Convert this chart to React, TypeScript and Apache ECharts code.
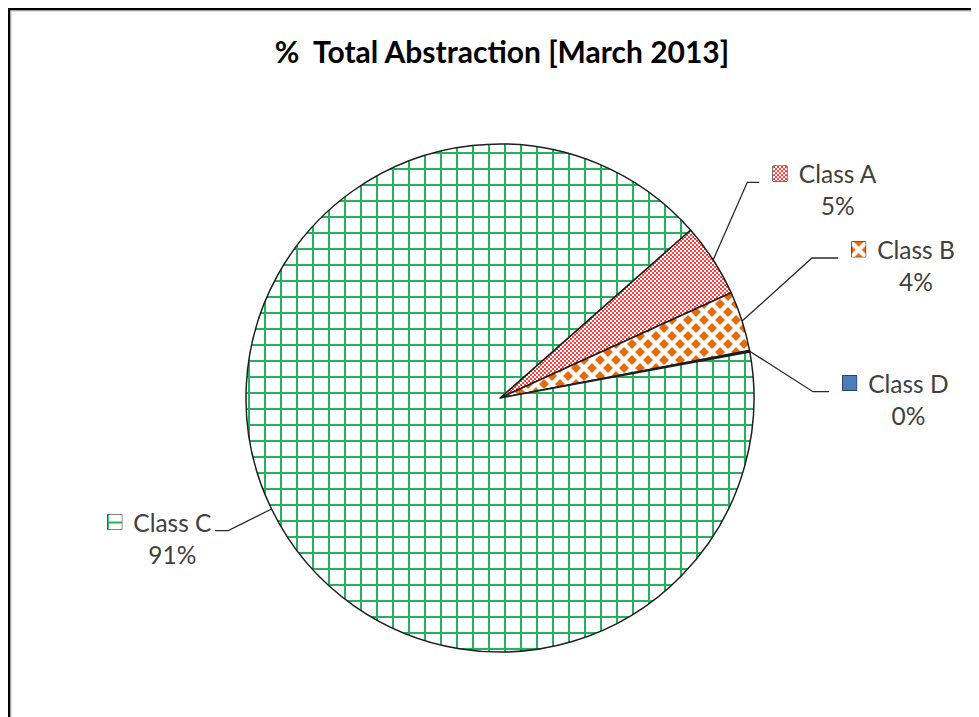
import React, { useEffect, useRef } from "react";
import * as echarts from "echarts";

const TITLE = "%  Total Abstraction [March 2013]";
const CATEGORIES = ["Class A", "Class B", "Class D", "Class C"];
const VALUES = [4.7, 3.8, 0.1, 91.4];

// leader line elbow (ex, ey) and end (lx, ly) in chart pixels; label side
const LEADERS = [
  { ex: 739.3, ey: 174.3, lx: 751.3, ly: 174.3, side: "right" },
  { ex: 804, ey: 250, lx: 830, ly: 250, side: "right" },
  { ex: 805, ey: 383.7, lx: 821, ly: 383.7, side: "right" },
  { ex: 220.3, ey: 522.7, lx: 207, ly: 522.7, side: "left" },
];

const FONT = "Lato";
const GREEN = "#22b35c";
const RED = "#ff0000";
const ORANGE = "#e46c0a";
const BLUE = "#4a7ebb";

function makeCanvas(w: number, h: number, draw: (ctx: CanvasRenderingContext2D) => void) {
  const c = document.createElement("canvas");
  c.width = w;
  c.height = h;
  const ctx = c.getContext("2d")!;
  draw(ctx);
  return c;
}

function tiles() {
  const grid = makeCanvas(16, 16, (ctx) => {
    ctx.fillStyle = "#fff";
    ctx.fillRect(0, 0, 16, 16);
    ctx.fillStyle = GREEN;
    ctx.fillRect(0, 0, 16, 2);
    ctx.fillRect(0, 0, 2, 16);
  });
  const dots = makeCanvas(4, 4, (ctx) => {
    ctx.fillStyle = "#fff";
    ctx.fillRect(0, 0, 4, 4);
    ctx.fillStyle = RED;
    ctx.beginPath();
    ctx.arc(1, 1, 1.0, 0, Math.PI * 2);
    ctx.fill();
    ctx.beginPath();
    ctx.arc(3, 3, 1.0, 0, Math.PI * 2);
    ctx.fill();
  });
  const diamonds = makeCanvas(16, 16, (ctx) => {
    ctx.fillStyle = "#fff";
    ctx.fillRect(0, 0, 16, 16);
    ctx.fillStyle = ORANGE;
    const h = 5.0;
    const centers = [
      [8, 8],
      [0, 0],
      [16, 0],
      [0, 16],
      [16, 16],
    ];
    centers.forEach(([cx, cy]) => {
      ctx.beginPath();
      ctx.moveTo(cx - h, cy);
      ctx.lineTo(cx, cy - h);
      ctx.lineTo(cx + h, cy);
      ctx.lineTo(cx, cy + h);
      ctx.closePath();
      ctx.fill();
    });
  });
  const blue = makeCanvas(4, 4, (ctx) => {
    ctx.fillStyle = BLUE;
    ctx.fillRect(0, 0, 4, 4);
  });
  return { grid, dots, diamonds, blue };
}

function icon(tile: HTMLCanvasElement, ox: number, oy: number) {
  return makeCanvas(14, 15, (ctx) => {
    const p = ctx.createPattern(tile, "repeat")!;
    ctx.translate(ox, oy);
    ctx.fillStyle = p;
    ctx.fillRect(-ox, -oy, 14, 15);
  }).toDataURL();
}

export default function App() {
  const ref = useRef<HTMLDivElement>(null);
  useEffect(() => {
    if (!ref.current) return;
    const chart = echarts.init(ref.current, undefined, { renderer: "svg" });
    const t = tiles();
    const fills = [t.dots, t.diamonds, t.blue, t.grid];
    const iconImgs = [icon(t.dots, 0, 0), icon(t.diamonds, 7, 0), icon(t.blue, 0, 0), icon(t.grid, 15, 7)];
    const iconKeys = ["icA", "icB", "icD", "icC"];
    const LH = 32;
    const FS = 24.5;
    const ICON_W = 14;
    const GAP = 11.5;
    const rich: any = {
      name: { fontSize: FS, fontFamily: FONT, color: "#404040", lineHeight: LH },
      pct: { fontSize: FS, fontFamily: FONT, color: "#404040", lineHeight: LH },
      gap: { width: GAP, lineHeight: LH },
      sp: { width: ICON_W + GAP, lineHeight: LH },
    };
    iconKeys.forEach((k, i) => {
      rich[k] = {
        width: ICON_W,
        height: 15,
        lineHeight: LH,
        borderColor: "#000",
        borderWidth: 1,
        backgroundColor: { image: iconImgs[i] },
      };
    });

    const data = CATEGORIES.map((name, i) => ({
      name,
      value: VALUES[i],
      itemStyle: {
        color: {
          image: fills[i].toDataURL(),
          repeat: "repeat",
          imageWidth: fills[i].width,
          imageHeight: fills[i].height,
        },
      },
    }));

    chart.setOption({
      animation: false,
      title: {
        text: TITLE,
        left: 494,
        top: 28,
        padding: 0,
        textAlign: "center",
        textStyle: { fontFamily: FONT, fontWeight: "bold", fontSize: 30, color: "#000" },
      },
      graphic: [
        { type: "line", shape: { x1: 1.2, y1: 0, x2: 1.2, y2: 709 }, style: { stroke: "#000", lineWidth: 2.4 } },
        { type: "line", shape: { x1: 0, y1: 1.2, x2: 971, y2: 1.2 }, style: { stroke: "#000", lineWidth: 2.4 } },
        { type: "line", shape: { x1: 2.9, y1: 2.4, x2: 2.9, y2: 709 }, style: { stroke: "#b0b0b0", lineWidth: 1 } },
        { type: "line", shape: { x1: 2.4, y1: 2.9, x2: 971, y2: 2.9 }, style: { stroke: "#b0b0b0", lineWidth: 1 } },
      ],
      series: [
        {
          type: "pie",
          center: [492, 390],
          radius: 254,
          startAngle: 41.4,
          clockwise: true,
          avoidLabelOverlap: false,
          emphasis: { disabled: true },
          itemStyle: { borderColor: "#1e1e1e", borderWidth: 1.5 },
          data,
          percentPrecision: 0,
          label: {
            show: true,
            position: "outside",
            formatter: (p: any) =>
              `{${iconKeys[p.dataIndex]}|}{gap|}{name|${p.name}}\n{sp|}{pct|${p.percent}%}`,
            rich,
          },
          labelLine: {
            show: true,
            length: 20,
            length2: 10,
            lineStyle: { color: "#2a2a2a", width: 1.3 },
          },
          labelLayout: (params: any) => {
            const L = LEADERS[params.dataIndex];
            const w = params.labelRect.width;
            const p0 = params.labelLinePoints ? params.labelLinePoints[0] : [L.ex, L.ey];
            const x = L.side === "right" ? L.lx + 13.4 + w / 2 : L.lx - 3.3 - w / 2;
            const y = L.ly - 8.7 - LH / 2;
            return {
              x,
              y,
              align: "center",
              verticalAlign: "top",
              labelLinePoints: [p0, [L.ex, L.ey], [L.lx, L.ly]],
            };
          },
        },
      ],
    });
    return () => chart.dispose();
  }, []);
  return <div ref={ref} style={{ width: 971, height: 709 }} />;
}
